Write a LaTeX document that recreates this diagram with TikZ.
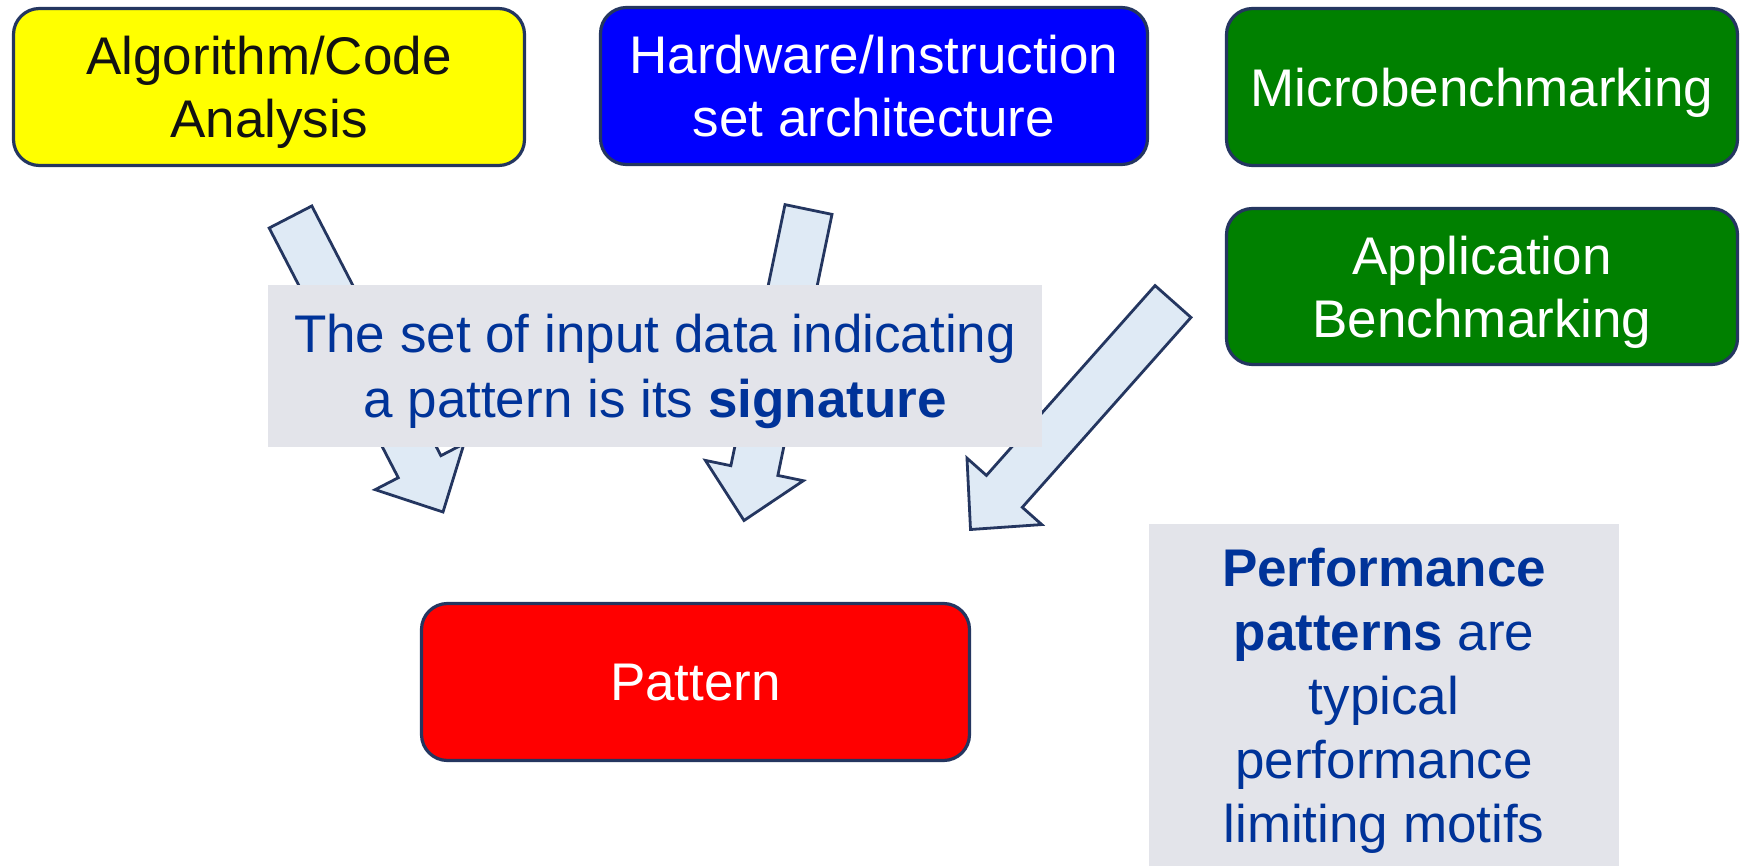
\documentclass[tikz,border=0pt]{standalone}
\usepackage{fontspec}
\setmainfont{Liberation Sans}
\usetikzlibrary{calc}
\definecolor{navy}{HTML}{243660}
\definecolor{arrowfill}{HTML}{DFEAF5}
\definecolor{grayfill}{HTML}{E3E4EA}
\definecolor{textblue}{HTML}{003399}
\definecolor{boxgreen}{HTML}{008000}
\definecolor{boxyellow}{HTML}{FFFF00}
\definecolor{boxblue}{HTML}{0000FF}
\definecolor{boxred}{HTML}{FF0000}
\newcommand{\myblockarrow}[2]{%
  \coordinate (B) at ($(#2)!51pt!(#1)$);
  \draw[blockarr] ($(#1)!24pt!90:(#2)$) -- ($(B)!24pt!90:(#2)$) -- ($(B)!50pt!90:(#2)$) -- (#2)
    -- ($(B)!50pt!-90:(#2)$) -- ($(B)!24pt!-90:(#2)$) -- ($(#1)!24pt!-90:(#2)$) -- cycle;
}
\begin{document}
\begin{tikzpicture}[x=1pt,y=-1pt,
  box/.style={draw=navy, line width=3.2pt, rounded corners=26pt, minimum height=157pt,
    align=center, text depth=0pt, inner sep=0pt, font=\fontsize{53}{63}\selectfont},
  blockarr/.style={draw=navy, line width=2.8pt, fill=arrowfill, line join=miter},
  note/.style={fill=grayfill, inner sep=0pt, align=center, text depth=0pt, text=textblue}]
\useasboundingbox (0,0) rectangle (1744,866);
% arrow end points
\coordinate (T1) at (290.5,217);
\coordinate (P1) at (443,512);
\coordinate (T2) at (808.5,209.5);
\coordinate (P2) at (744,520.5);
\coordinate (T3) at (1173,301.5);
\coordinate (P3) at (970.5,529.5);
\myblockarrow{T1}{P1}
\myblockarrow{T2}{P2}
\myblockarrow{T3}{P3}
% boxes
\node[box, fill=boxyellow, text={black!93}, minimum width=511pt] (alg) at (269,87) {Algorithm/Code\\Analysis};
\node[box, fill=boxblue, text=white, minimum width=547pt] (hw) at (874,86) {Hardware/Instruction\\set architecture};
\node[box, fill=boxgreen, text=white, minimum width=511pt] (micro) at (1482,87) {Microbenchmarking};
\node[box, fill=boxgreen, text=white, minimum width=511pt, minimum height=156pt] (app) at (1482,286.5) {Application\\Benchmarking};
\node[box, fill=boxred, text=white, minimum width=548pt] (pat) at (695.5,682) {Pattern};
% notes
\node[note, minimum width=774pt, minimum height=162pt, font=\fontsize{53}{65}\selectfont] (sig) at (655,366)
  {The set of input data indicating\\a pattern is its \textbf{signature}};
\node[note, minimum width=470pt, minimum height=342pt, font=\fontsize{53}{64}\selectfont] (perf) at (1384,695)
  {\textbf{Performance}\\\textbf{patterns} are\\typical\\performance\\limiting motifs};
\end{tikzpicture}
\end{document}
